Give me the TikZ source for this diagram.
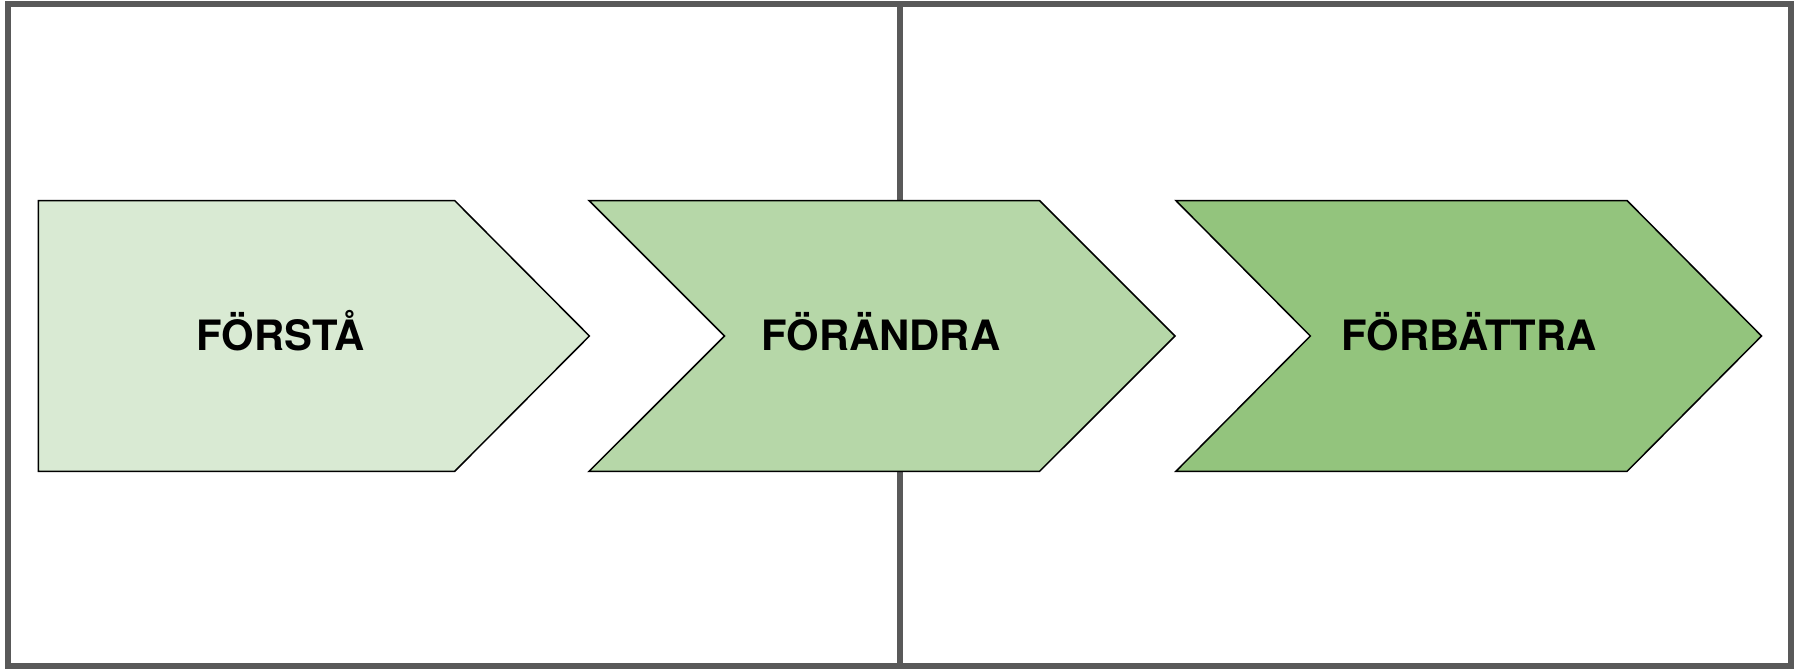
\documentclass[tikz,border=0pt]{standalone}
\usepackage{fontspec}
\setmainfont{TeX Gyre Heros}
\definecolor{gA}{HTML}{D9EAD3}
\definecolor{gB}{HTML}{B6D7A8}
\definecolor{gC}{HTML}{93C47D}
\definecolor{frameg}{HTML}{595959}
\tikzset{
  framebox/.style={draw=frameg, line width=5.5pt},
  stepshape/.style={draw=black, line width=1.5pt, line join=miter},
  steplabel/.style={anchor=base, inner sep=0pt, font=\fontsize{41.8}{50}\selectfont\bfseries, text=black}
}
\begin{document}
\begin{tikzpicture}[x=1pt, y=-1pt]
\useasboundingbox (0,0) rectangle (1803,669);
% frame and divider (behind the shapes)
\draw[framebox] (8,4) rectangle (1791,666);
\coordinate (dtop) at (900,4);
\coordinate (dbot) at (900,666);
\draw[framebox] (dtop) -- (dbot);
% step 1
\fill[gA] (38.3,200.5) -- (454.6,200.5) -- (589.4,336) -- (454.6,471.4) -- (38.3,471.4) -- cycle;
\draw[stepshape] (38.3,200.5) -- (454.6,200.5) -- (589.4,336) -- (454.6,471.4) -- (38.3,471.4) -- cycle;
% step 2
\fill[gB] (589,200.5) -- (1039.5,200.5) -- (1175,336) -- (1039.5,471.4) -- (589,471.4) -- (724.5,336) -- cycle;
\draw[stepshape] (589,200.5) -- (1039.5,200.5) -- (1175,336) -- (1039.5,471.4) -- (589,471.4) -- (724.5,336) -- cycle;
% step 3
\fill[gC] (1175.8,200.5) -- (1627,200.5) -- (1761.5,336) -- (1627,471.4) -- (1175.8,471.4) -- (1310.3,336) -- cycle;
\draw[stepshape] (1175.8,200.5) -- (1627,200.5) -- (1761.5,336) -- (1627,471.4) -- (1175.8,471.4) -- (1310.3,336) -- cycle;
% labels
\node[steplabel] (l1) at (280.5,350.7) {FÖRSTÅ};
\node[steplabel] (l2) at (881,350.7) {FÖRÄNDRA};
\node[steplabel] (l3) at (1469,350.7) {FÖRBÄTTRA};
\end{tikzpicture}
\end{document}
